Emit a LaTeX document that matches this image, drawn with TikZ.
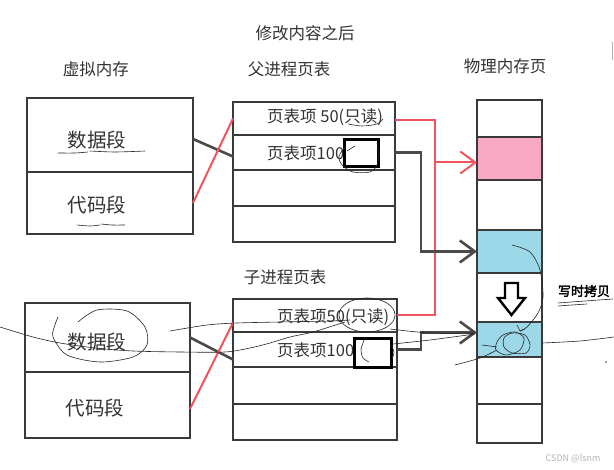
\documentclass[tikz,border=0pt]{standalone}
\usepackage{fontspec}
\newfontfamily\cjk{Noto Sans CJK SC}
\newfontfamily\cjkb[FakeBold=2.5]{Noto Sans CJK SC}
\usetikzlibrary{arrows.meta,calc}
\definecolor{boxc}{HTML}{3A3A3A}
\definecolor{linec}{HTML}{4A4A4A}
\definecolor{redc}{HTML}{F2545F}
\definecolor{pinkc}{HTML}{F9A9C3}
\definecolor{bluec}{HTML}{9CD8E8}
\definecolor{txt}{HTML}{333333}
\tikzset{
  cell/.style args={#1x#2}{draw=boxc, line width=2.2pt, anchor=north west, inner sep=0pt, outer sep=0pt, minimum width=#1pt, minimum height=#2pt},
  lbl/.style={font=\cjk\fontsize{16.5}{18}\selectfont, text=txt, inner sep=0pt},
  itm/.style={font=\cjk\fontsize{16.5}{18}\selectfont, text=txt, inner sep=0pt, anchor=west},
  seg/.style={font=\cjk\fontsize{19.5}{21}\selectfont, text=txt, inner sep=0pt},
  redline/.style={draw=redc, line width=2pt},
  darkline/.style={draw=linec, line width=2.6pt},
  barbtip/.style={-{Straight Barb[length=15pt,width=22pt]}},
  scrib/.style={draw=black!85, line width=0.6pt},
  smallbox/.style={draw=black, line width=2.6pt, anchor=north west, inner sep=0pt, minimum width=#1pt},
}
\begin{document}
\begin{tikzpicture}[x=1pt,y=-1pt]
\useasboundingbox (0,0) rectangle (614,470);
\fill[white] (0,0) rectangle (614,470);

% titles
\node[lbl] (title) at (305,33) {修改内容之后};
\node[lbl] (vmlabel) at (96,69) {虚拟内存};
\node[lbl] (ptlabel) at (289,69) {父进程页表};
\node[lbl] (pmlabel) at (505,66) {物理内存页};
\node[lbl] (cptlabel) at (285,277) {子进程页表};

% virtual memory 1
\node[cell=166x74] (v1d) at (27,98) {};
\node[cell=166x62] (v1c) at (27,172) {};
\node[seg] (v1dt) at (97,140) {数据段};
\node[seg] (v1ct) at (97,205) {代码段};

% virtual memory 2
\node[cell=165x69] (v2d) at (25,303) {};
\node[cell=165x66] (v2c) at (25,372) {};
\node[seg] (v2dt) at (97,342) {数据段};
\node[seg] (v2ct) at (95,408) {代码段};

% parent page table
\node[cell=162x33] (p1) at (233,102) {};
\node[cell=162x35] (p2) at (233,135) {};
\node[cell=162x36] (p3) at (233,170) {};
\node[cell=162x36] (p4) at (233,206) {};
\node[itm] (p1t) at (267,117) {页表项 50(只读)};
\node[itm] (p2t) at (267,153) {页表项100};
\node[smallbox=34, minimum height=27pt] (p2b) at (343,138) {};

% child page table
\node[cell=164x33] (c1) at (233,299) {};
\node[cell=164x35] (c2) at (233,332) {};
\node[cell=164x37] (c3) at (233,367) {};
\node[cell=164x36] (c4) at (233,404) {};
\node[itm] (c1t) at (277,317) {页表项50(只读)};
\node[itm] (c2t) at (277,350) {页表项100};
\node[smallbox=37, minimum height=29pt] (c2b) at (353,337) {};

% physical memory
\node[cell=65x37] (m1) at (477,100) {};
\node[cell=65x43, fill=pinkc] (m2) at (477,137) {};
\node[cell=65x50] (m3) at (477,180) {};
\node[cell=65x43, fill=bluec] (m4) at (477,230) {};
\node[cell=65x49] (m5) at (477,273) {};
\node[cell=65x35, fill=bluec] (m6) at (477,322) {};
\node[cell=65x47] (m7) at (477,357) {};
\node[cell=65x39] (m8) at (477,404) {};

% connectors virtual -> page table
\draw[darkline] ([yshift=-4pt]v1d.east) -- ([yshift=-4pt]p2.west);
\draw[redline] (v1c.east) -- (p1.west);
\draw[darkline] (v2d.east) -- ([yshift=-10pt]c2.west);
\draw[redline] ([yshift=-4pt]v2c.east) -- ([yshift=-7pt]c1.west);

% red trunk
\coordinate (rx) at (435,0);
\coordinate (bx) at (421,0);
\draw[redline] ([yshift=-2pt]p1.east) -- ([yshift=-2pt]p1.east -| rx) |- (c1.east);
\draw[redline, barbtip] ([yshift=-4pt]rx |- m2.west) -- ([yshift=-4pt]m2.west);
% dark lines
\draw[darkline, barbtip] (p2.east) -- (p2.east -| bx) |- (m4.west);
\draw[darkline, barbtip] (c2.east) -- (c2.east -| bx) |- ([yshift=7pt]m6.west);

% copy-on-write arrow
\draw[black, line width=2.4pt, fill=white, line join=miter]
  (505,283) -- (518,283) -- (518,298) -- (525,298) -- (511.5,315) -- (498,298) -- (505,298) -- cycle;
\node[font=\cjkb\fontsize{13}{14}\selectfont, text=black, inner sep=0pt] (cow) at (584,291) {写时拷贝};

% scribbles (parent)
\draw[scrib] plot[smooth] coordinates {(58,153) (75,153) (88,152)};
\draw[scrib] plot[smooth] coordinates {(90,151) (115,152) (145,151)};
\draw[scrib] plot[smooth] coordinates {(77,225) (90,226) (100,225)};
\draw[scrib] plot[smooth] coordinates {(101,224) (112,225) (125,225)};
\draw[scrib] plot[smooth] coordinates {(348,124) (362,126) (377,124) (383,119)};
\draw[scrib] plot[smooth] coordinates {(346,146) (339,156) (342,165) (353,172) (370,172) (377,165) (379,153) (377,143)};
\draw[scrib] (347,151) -- (355,146);

% scribbles (child)
\draw[scrib] plot[smooth] coordinates {(78,322) (97,310) (127,311) (145,327) (147,345) (133,357) (100,362) (67,355) (53,337) (55,325) (58,317)};
\draw[scrib] plot[smooth] coordinates {(0,327) (33,337) (60,343) (95,348) (133,351) (180,352) (225,352) (250,348) (270,343) (290,337) (313,332) (345,322)};
\draw[scrib] plot[smooth] coordinates {(170,331) (207,325) (237,323) (280,322) (330,321) (350,320)};
\draw[scrib] (367,315) ellipse [x radius=28, y radius=17];
\draw[scrib] plot[smooth] coordinates {(390,329) (430,333) (475,333)};
\draw[scrib] plot[smooth] coordinates {(393,344) (430,340) (475,334)};
\draw[scrib] plot[smooth] coordinates {(364,340) (361,350) (363,358) (369,362)};
\draw[scrib] plot[smooth] coordinates {(391,345) (394,352) (392,359)};

% scribbles (physical)
\draw[scrib] plot[smooth] coordinates {(512,245) (530,252) (540,270) (543,297) (538,313) (527,327) (520,331)};
\draw[scrib] (517,325) -- (520,331) -- (525,329);
\draw[scrib] plot[smooth cycle] coordinates {(504,338) (512,333) (525,335) (530,345) (526,353) (512,353) (504,347)};
\draw[scrib] plot[smooth cycle] coordinates {(497,342) (503,335) (515,332) (524,338) (520,350) (506,355) (496,350)};
\draw[scrib] (482,345) -- (497,347);
\draw[scrib] plot[smooth] coordinates {(455,365) (480,358) (497,350)};
\draw[scrib] plot[smooth] coordinates {(542,343) (580,341) (614,337)};
\fill[black!80] (606,362) circle (0.8);
\draw[scrib] plot[smooth] coordinates {(558,303) (585,301) (613,299)};
\draw[scrib] plot[smooth] coordinates {(558,306) (572,305) (587,304)};

% edge mark and watermark
\draw[gray!60, line width=1pt] (612.5,42) -- (612.5,60);
\node[font=\cjk\fontsize{9}{10}\selectfont, text=gray!60, inner sep=0pt] (wm) at (573,459) {CSDN @lsnm};
\end{tikzpicture}
\end{document}
